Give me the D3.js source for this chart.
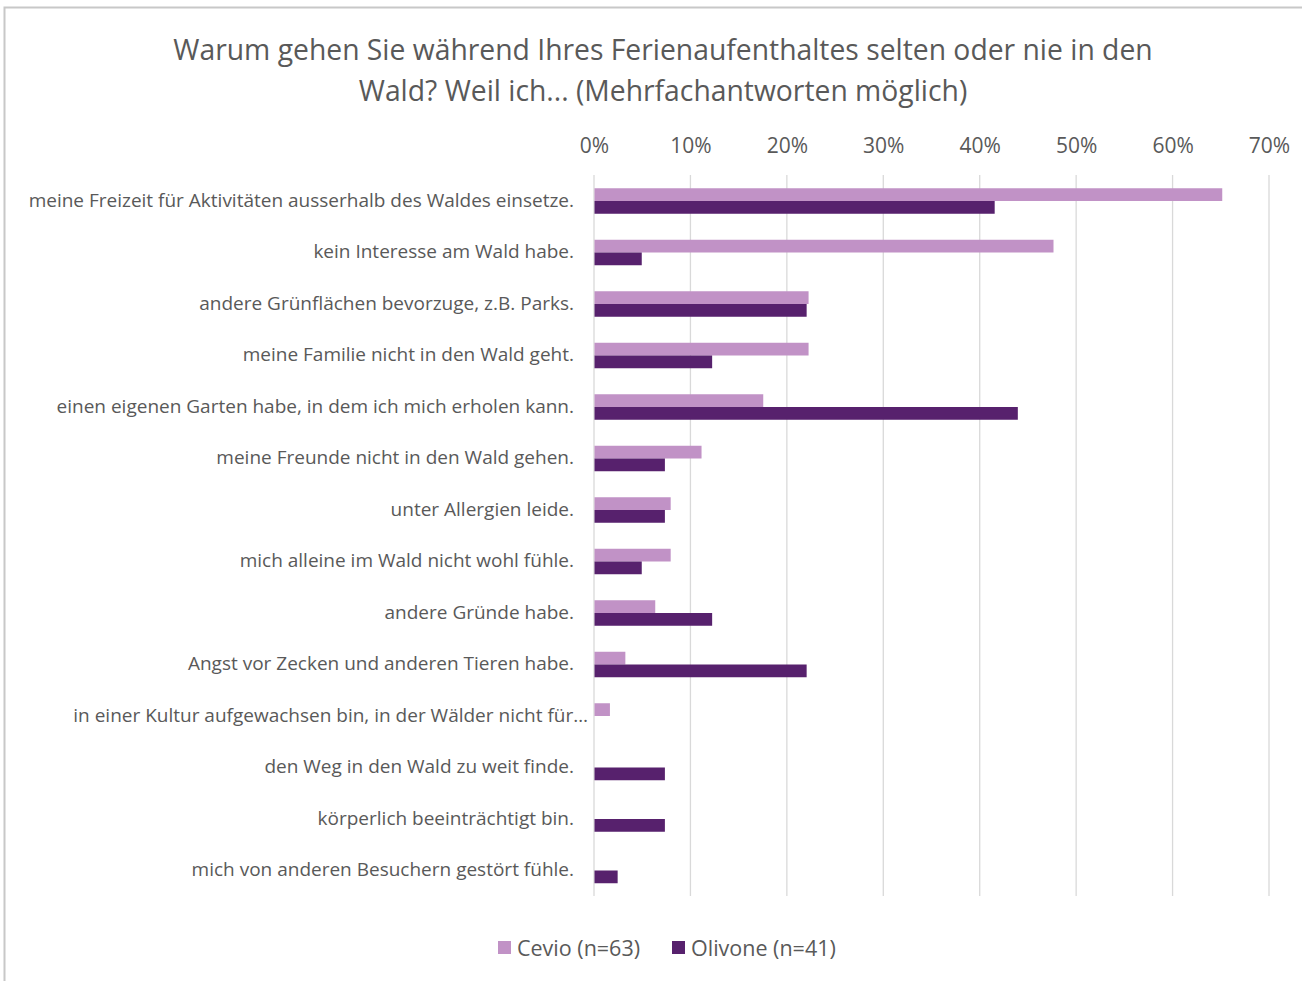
<!DOCTYPE html>
<html><head><meta charset="utf-8">
<script src="https://cdn.jsdelivr.net/npm/d3@7"></script>
<style>body{margin:0;background:#fff;} svg{display:block;}</style>
</head><body>
<svg id="chart" width="1302" height="981"></svg>
<script>
const categories = [
  "meine Freizeit für Aktivitäten ausserhalb des Waldes einsetze.",
  "kein Interesse am Wald habe.",
  "andere Grünflächen bevorzuge, z.B. Parks.",
  "meine Familie nicht in den Wald geht.",
  "einen eigenen Garten habe, in dem ich mich erholen kann.",
  "meine Freunde nicht in den Wald gehen.",
  "unter Allergien leide.",
  "mich alleine im Wald nicht wohl fühle.",
  "andere Gründe habe.",
  "Angst vor Zecken und anderen Tieren habe.",
  "in einer Kultur aufgewachsen bin, in der Wälder nicht für…",
  "den Weg in den Wald zu weit finde.",
  "körperlich beeinträchtigt bin.",
  "mich von anderen Besuchern gestört fühle."
];
const seriesNames = ["Cevio (n=63)", "Olivone (n=41)"];
const cevio   = [65.1, 47.6, 22.2, 22.2, 17.5, 11.1, 7.9, 7.9, 6.3, 3.2, 1.6, 0, 0, 0];
const olivone = [41.5, 4.9, 22.0, 12.2, 43.9, 7.3, 7.3, 4.9, 12.2, 22.0, 0, 7.3, 7.3, 2.4];
const tickValues = [0, 10, 20, 30, 40, 50, 60, 70];
const titleLines = ["Warum gehen Sie während Ihres Ferienaufenthaltes selten oder nie in den", "Wald? Weil ich... (Mehrfachantworten möglich)"];

const colors = ["#c192c6", "#57216d"];
const textColor = "#595959";
const font = "'Open Sans', sans-serif";

const svg = d3.select("#chart");
// frame
svg.append("path").attr("d", "M4.5,981 V7.5 H1302").attr("fill", "none").attr("stroke", "#c8c8c8").attr("stroke-width", 2);

const pLeft = 594, pRight = 1269, pTop = 175, pBottom = 896;
const x = d3.scaleLinear().domain([0, 70]).range([pLeft, pRight]);
const y = d3.scaleBand().domain(categories).range([pTop, pBottom]).paddingInner(0).paddingOuter(0);
const inner = d3.scaleBand().domain(seriesNames).range([y.bandwidth()/2 - 12.5, y.bandwidth()/2 + 13]);

// title
svg.append("g").selectAll("text").data(titleLines).join("text")
  .attr("x", 663).attr("y", (d, i) => 60 + i * 41)
  .attr("text-anchor", "middle").attr("fill", textColor)
  .style("font-family", font).style("font-size", "28.3px").text(d => d);

// gridlines
svg.append("g").selectAll("line").data(tickValues).join("line")
  .attr("x1", d => x(d)).attr("x2", d => x(d)).attr("y1", pTop).attr("y2", pBottom)
  .attr("stroke", "#d9d9d9").attr("stroke-width", 1.3);

// top axis
const axis = d3.axisTop(x).tickValues(tickValues).tickFormat(d => d + "%").tickSize(0).tickPadding(0);
const ax = svg.append("g").attr("transform", `translate(0,153)`).call(axis);
ax.select(".domain").remove();
ax.selectAll("text").attr("fill", textColor).style("font-family", font).style("font-size", "21px");

// category labels
const yAxis = d3.axisLeft(y).tickSize(0).tickPadding(0);
const ay = svg.append("g").attr("transform", `translate(574,0)`).call(yAxis);
ay.select(".domain").remove();
ay.selectAll("text").attr("fill", textColor).style("font-family", font).style("font-size", "19px")
  .attr("dx", d => d.endsWith("…") ? 14 : 0);

// bars
const data = categories.map((c, i) => ({c, vals: [cevio[i], olivone[i]]}));
const g = svg.append("g").selectAll("g").data(data).join("g").attr("transform", d => `translate(0,${y(d.c)})`);
g.selectAll("rect").data(d => d.vals.map((v, j) => ({v, s: seriesNames[j], j}))).join("rect")
  .attr("x", x(0) + 0.5).attr("y", d => inner(d.s)).attr("height", inner.bandwidth())
  .attr("width", d => Math.max(0, x(d.v) - x(0)))
  .attr("fill", d => colors[d.j]);

// legend
const leg = svg.append("g").attr("transform", "translate(498,948)");
const items = leg.selectAll("g").data(seriesNames).join("g").attr("transform", (d, i) => `translate(${i * 174},0)`);
items.append("rect").attr("x", 0).attr("y", -7).attr("width", 13).attr("height", 13).attr("fill", (d, i) => colors[i]);
items.append("text").attr("x", 19).attr("y", 0).attr("dy", "0.35em").attr("fill", textColor)
  .style("font-family", font).style("font-size", "21.5px").text(d => d);
</script>
</body></html>
